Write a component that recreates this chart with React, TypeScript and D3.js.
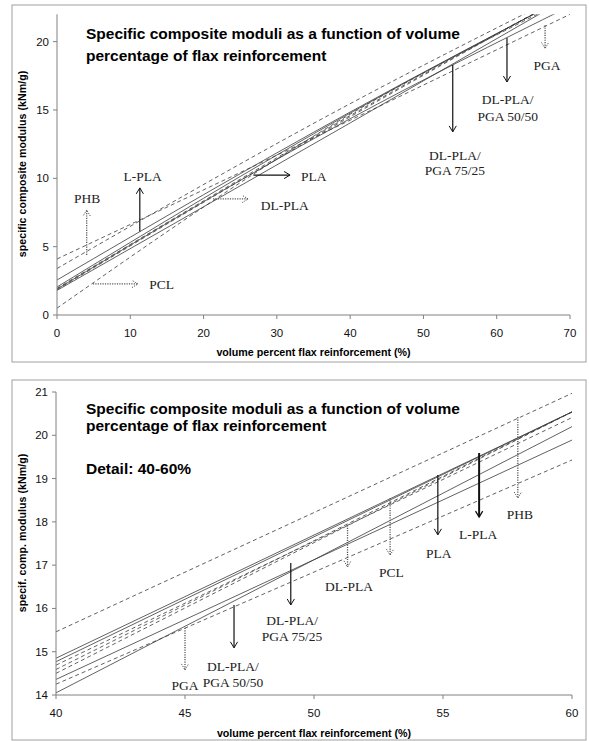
import React from "react";
import * as d3 from "d3";

// ---------- data ----------
const TOP_X = [0, 40, 70];
const DETAIL_X = [40, 60];

const PHB_TOP = [3.4, 15.46, 23.7];
const PHB_DETAIL = [15.46, 20.97];
const LPLA_TOP = [2.56, 14.85, 23.4];
const LPLA_DETAIL = [14.85, 20.54];
const PLA_TOP = [2.05, 14.77, 23.4];
const PLA_DETAIL = [14.77, 20.54];
const PCL_TOP = [0.5, 14.69, 23.2];
const PCL_DETAIL = [14.69, 20.41];
const DLPLA_TOP = [1.95, 14.59, 23.5];
const DLPLA_DETAIL = [14.59, 20.54];
const EXTRA_TOP = [1.85, 14.5, 23.5];
const EXTRA_DETAIL = [14.5, 20.54];
const PGA5050_TOP = [1.9, 14.36, 22.6];
const PGA5050_DETAIL = [14.36, 19.89];
const PGA_TOP = [4.1, 14.25, 22.0];
const PGA_DETAIL = [14.25, 19.43];
const PGA7525_TOP = [1.8, 14.05, 23.3];
const PGA7525_DETAIL = [14.05, 20.2];

const TOP_X_TICKS = [0, 10, 20, 30, 40, 50, 60, 70];
const TOP_Y_TICKS = [0, 5, 10, 15, 20];
const DETAIL_X_TICKS = [40, 45, 50, 55, 60];
const DETAIL_Y_TICKS = [14, 15, 16, 17, 18, 19, 20, 21];

const TITLE_LINES = [
  "Specific composite moduli as a function of volume",
  "percentage of flax reinforcement",
];
const DETAIL_TITLE = "Detail: 40-60%";
const X_TITLE = "volume percent flax reinforcement (%)";
const TOP_Y_TITLE = "specific composite modulus (kNm/g)";
const DETAIL_Y_TITLE = "specif. comp. modulus (kNm/g)";

type Series = { name: string; top: number[]; detail: number[]; dashed: boolean };
const SERIES: Series[] = [
  { name: "PHB", top: PHB_TOP, detail: PHB_DETAIL, dashed: true },
  { name: "L-PLA", top: LPLA_TOP, detail: LPLA_DETAIL, dashed: false },
  { name: "PLA", top: PLA_TOP, detail: PLA_DETAIL, dashed: false },
  { name: "PCL", top: PCL_TOP, detail: PCL_DETAIL, dashed: true },
  { name: "DL-PLA", top: DLPLA_TOP, detail: DLPLA_DETAIL, dashed: true },
  { name: "other", top: EXTRA_TOP, detail: EXTRA_DETAIL, dashed: true },
  { name: "DL-PLA/PGA 50/50", top: PGA5050_TOP, detail: PGA5050_DETAIL, dashed: false },
  { name: "PGA", top: PGA_TOP, detail: PGA_DETAIL, dashed: true },
  { name: "DL-PLA/PGA 75/25", top: PGA7525_TOP, detail: PGA7525_DETAIL, dashed: false },
];

type Ann = {
  x1: number; y1: number; x2: number; y2: number;
  kind: "dot" | "solid" | "bold";
  lx: number; ly: number[]; text: string[]; anchor: "middle" | "start";
};
const TOP_ANN: Ann[] = [
  { x1: 4.05, y1: 4.39, x2: 4.05, y2: 7.68, kind: "dot", lx: 4.1, ly: [8.56], text: ["PHB"], anchor: "middle" },
  { x1: 11.3, y1: 6.1, x2: 11.3, y2: 9.3, kind: "solid", lx: 11.7, ly: [10.1], text: ["L-PLA"], anchor: "middle" },
  { x1: 4.9, y1: 2.27, x2: 11.05, y2: 2.27, kind: "dot", lx: 12.6, ly: [2.2], text: ["PCL"], anchor: "start" },
  { x1: 21.3, y1: 8.49, x2: 26.1, y2: 8.49, kind: "dot", lx: 27.8, ly: [8.0], text: ["DL-PLA"], anchor: "start" },
  { x1: 26.8, y1: 10.24, x2: 31.8, y2: 10.24, kind: "solid", lx: 33.3, ly: [10.1], text: ["PLA"], anchor: "start" },
  { x1: 54.0, y1: 18.29, x2: 54.0, y2: 13.4, kind: "solid", lx: 54.3, ly: [11.7, 10.55], text: ["DL-PLA/", "PGA 75/25"], anchor: "middle" },
  { x1: 61.4, y1: 20.26, x2: 61.4, y2: 17.05, kind: "solid", lx: 61.5, ly: [15.8, 14.5], text: ["DL-PLA/", "PGA 50/50"], anchor: "middle" },
  { x1: 66.6, y1: 21.2, x2: 66.6, y2: 19.5, kind: "dot", lx: 66.86, ly: [18.29], text: ["PGA"], anchor: "middle" },
];
const DETAIL_ANN: Ann[] = [
  { x1: 45.0, y1: 15.55, x2: 45.0, y2: 14.58, kind: "dot", lx: 45.0, ly: [14.21], text: ["PGA"], anchor: "middle" },
  { x1: 46.9, y1: 16.08, x2: 46.9, y2: 15.09, kind: "solid", lx: 46.86, ly: [14.65, 14.28], text: ["DL-PLA/", "PGA 50/50"], anchor: "middle" },
  { x1: 49.1, y1: 17.05, x2: 49.1, y2: 16.08, kind: "solid", lx: 49.15, ly: [15.71, 15.34], text: ["DL-PLA/", "PGA 75/25"], anchor: "middle" },
  { x1: 51.3, y1: 17.92, x2: 51.3, y2: 16.96, kind: "dot", lx: 51.36, ly: [16.5], text: ["DL-PLA"], anchor: "middle" },
  { x1: 52.95, y1: 18.55, x2: 52.95, y2: 17.23, kind: "dot", lx: 53.0, ly: [16.84], text: ["PCL"], anchor: "middle" },
  { x1: 54.8, y1: 19.08, x2: 54.8, y2: 17.7, kind: "solid", lx: 54.84, ly: [17.28], text: ["PLA"], anchor: "middle" },
  { x1: 56.4, y1: 19.59, x2: 56.4, y2: 18.11, kind: "bold", lx: 56.36, ly: [17.7], text: ["L-PLA"], anchor: "middle" },
  { x1: 57.9, y1: 20.42, x2: 57.9, y2: 18.55, kind: "dot", lx: 57.98, ly: [18.16], text: ["PHB"], anchor: "middle" },
];

// ---------- drawing ----------
const SANS = "'Liberation Sans', Arial, sans-serif";
const SERIF = "'Liberation Serif', 'Times New Roman', serif";
const AXIS = "#808080";
const LINE = "#3a3a3a";

type PanelProps = {
  id: string;
  frame: { x: number; y: number; w: number; h: number };
  px: [number, number];
  py: [number, number];
  xDomain: [number, number];
  yDomain: [number, number];
  xs: number[];
  dataKey: "top" | "detail";
  xTicks: number[];
  yTicks: number[];
  titleY: number[];
  titles: string[];
  yTitle: string;
  yTitleCenter: number;
  xTitleY: number;
  ann: Ann[];
};

function Arrow({ a, x, y }: { a: Ann; x: d3.ScaleLinear<number, number>; y: d3.ScaleLinear<number, number> }) {
  const X1 = x(a.x1), Y1 = y(a.y1), X2 = x(a.x2), Y2 = y(a.y2);
  const dx = X2 - X1, dy = Y2 - Y1;
  const len = Math.hypot(dx, dy) || 1;
  const ux = dx / len, uy = dy / len;
  const hl = 6, hw = 3.6;
  const bx = X2 - ux * hl, by = Y2 - uy * hl;
  const p1 = [bx - uy * hw, by + ux * hw];
  const p2 = [bx + uy * hw, by - ux * hw];
  const sw = a.kind === "bold" ? 2 : a.kind === "solid" ? 1.2 : 1.3;
  const dash = a.kind === "dot" ? "1.2,1.2" : undefined;
  const col = a.kind === "dot" ? "#555" : "#111";
  return (
    <g>
      <line x1={X1} y1={Y1} x2={X2} y2={Y2} stroke={col} strokeWidth={sw} strokeDasharray={dash} />
      <path d={`M${p1[0]},${p1[1]}L${X2},${Y2}L${p2[0]},${p2[1]}`} fill="none" stroke={col}
        strokeWidth={a.kind === "bold" ? 1.3 : 1} strokeDasharray={dash} />
      {a.text.map((t, i) => (
        <text key={i} x={x(a.lx)} y={y(a.ly[i])} textAnchor={a.anchor} dominantBaseline="central"
          fontFamily={SERIF} fontSize={13.5} fill="#222">{t}</text>
      ))}
    </g>
  );
}

function Panel(p: PanelProps) {
  const x = d3.scaleLinear().domain(p.xDomain).range(p.px);
  const y = d3.scaleLinear().domain(p.yDomain).range(p.py);
  const line = d3
    .line<number>()
    .x((_, i) => x(p.xs[i]))
    .y((d) => y(d))
    .curve(p.dataKey === "top" ? d3.curveMonotoneX : d3.curveLinear);
  const [x0, x1] = p.px;
  const [yb, yt] = p.py;
  return (
    <g>
      <rect x={p.frame.x} y={p.frame.y} width={p.frame.w} height={p.frame.h} fill="#fff" stroke="#a0a0a0" strokeWidth={1} />
      <defs>
        <clipPath id={p.id}>
          <rect x={x0} y={yt} width={x1 - x0} height={yb - yt} />
        </clipPath>
      </defs>
      {p.titles.map((t, i) => (
        <text key={i} x={86} y={p.titleY[i]} dominantBaseline="central" fontFamily={SANS} fontWeight="bold" fontSize={15.5} fill="#000">{t}</text>
      ))}
      <g clipPath={`url(#${p.id})`}>
        {SERIES.map((s) => (
          <path key={s.name} d={line(s[p.dataKey]) || ""} fill="none" stroke={LINE}
            strokeWidth={0.8} strokeDasharray={s.dashed ? "4,3" : undefined} />
        ))}
      </g>
      <line x1={x0} y1={yb} x2={x0} y2={yt} stroke={AXIS} strokeWidth={1} />
      <line x1={x0} y1={yb} x2={x1} y2={yb} stroke={AXIS} strokeWidth={1} />
      {p.yTicks.map((t) => (
        <g key={t}>
          <line x1={x0 - 4} x2={x0} y1={y(t)} y2={y(t)} stroke={AXIS} />
          <text x={x0 - 8} y={y(t)} textAnchor="end" dominantBaseline="central" fontFamily={SANS} fontSize={11.5} fill="#111">{t}</text>
        </g>
      ))}
      {p.xTicks.map((t) => (
        <g key={t}>
          <line x1={x(t)} x2={x(t)} y1={yb} y2={yb + 4} stroke={AXIS} />
          <text x={x(t)} y={yb + 18} textAnchor="middle" dominantBaseline="central" fontFamily={SANS} fontSize={11.5} fill="#111">{t}</text>
        </g>
      ))}
      <text x={(x0 + x1) / 2} y={p.xTitleY} textAnchor="middle" dominantBaseline="central" fontFamily={SANS} fontWeight="bold" fontSize={10.7} fill="#000">{X_TITLE}</text>
      <text transform={`translate(22,${p.yTitleCenter}) rotate(-90)`} textAnchor="middle" dominantBaseline="central"
        fontFamily={SANS} fontWeight="bold" fontSize={10.7} fill="#000">{p.yTitle}</text>
      {p.ann.map((a, i) => (
        <Arrow key={i} a={a} x={x} y={y} />
      ))}
    </g>
  );
}

export default function App() {
  return (
    <svg width={589} height={741} style={{ position: "absolute", left: 0, top: 0, background: "#fff" }}>
      <rect x={0} y={0} width={589} height={741} fill="#fff" />
      <Panel
        id="clipTop"
        frame={{ x: 12, y: 5, w: 574, h: 357 }}
        px={[57, 570]}
        py={[315, 14.3]}
        xDomain={[0, 70]}
        yDomain={[0, 22]}
        xs={TOP_X}
        dataKey="top"
        xTicks={TOP_X_TICKS}
        yTicks={TOP_Y_TICKS}
        titleY={[33, 55]}
        titles={TITLE_LINES}
        yTitle={TOP_Y_TITLE}
        yTitleCenter={164}
        xTitleY={352}
        ann={TOP_ANN}
      />
      <Panel
        id="clipBottom"
        frame={{ x: 12, y: 380, w: 574, h: 360 }}
        px={[56, 572]}
        py={[695, 392]}
        xDomain={[40, 60]}
        yDomain={[14, 21]}
        xs={DETAIL_X}
        dataKey="detail"
        xTicks={DETAIL_X_TICKS}
        yTicks={DETAIL_Y_TICKS}
        titleY={[408, 425, 468]}
        titles={[...TITLE_LINES, DETAIL_TITLE]}
        yTitle={DETAIL_Y_TITLE}
        yTitleCenter={533}
        xTitleY={733}
        ann={DETAIL_ANN}
      />
    </svg>
  );
}
